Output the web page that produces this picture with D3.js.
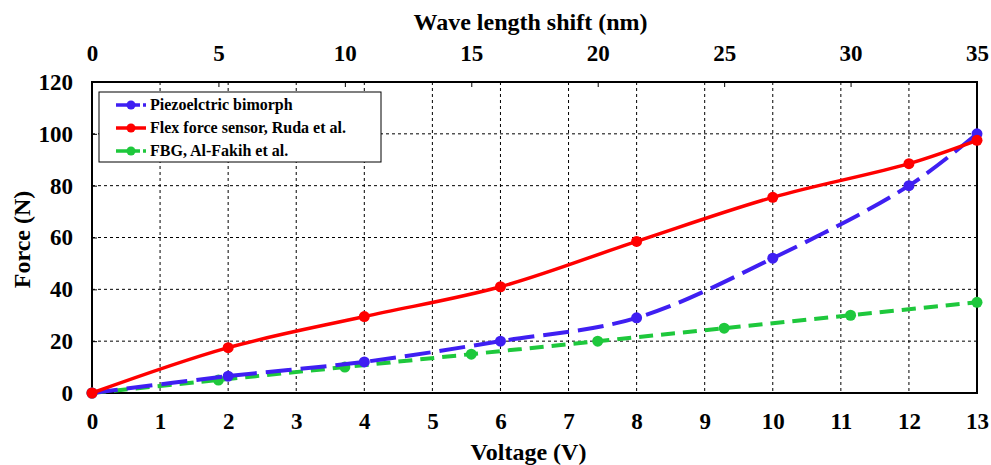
<!DOCTYPE html>
<html>
<head>
<meta charset="utf-8">
<script src="https://cdn.jsdelivr.net/npm/d3@7"></script>
<style>
  body { margin: 0; background: #fff; }
  text { font-family: "Liberation Serif", "Times New Roman", serif; font-weight: bold; fill: #000; }
</style>
</head>
<body>
<div id="chart"></div>
<script>
// data
const voltage = [0, 2, 4, 6, 8, 10, 12, 13];
const piezoForce = [0, 6.5, 12, 20, 29, 52, 80, 100];
const flexForce = [0, 17.5, 29.5, 41, 58.5, 75.5, 88.5, 97.5];
const fbgShift = [0, 5, 10, 15, 20, 25, 30, 35];
const fbgForce = [0, 5, 10, 15, 20, 25, 30, 35];

const voltTicks = d3.range(0, 14);
const shiftTicks = [0, 5, 10, 15, 20, 25, 30, 35];
const forceTicks = [0, 20, 40, 60, 80, 100, 120];

const legendItems = [
  {name: "Piezoelctric bimorph", color: "#3f1ff2", dash: "26,9"},
  {name: "Flex force sensor, Ruda et al.", color: "#ff0000", dash: null},
  {name: "FBG, Al-Fakih et al.", color: "#1ec83c", dash: "14,8"}
];

const W = 991, H = 465;
const margin = {top: 82, right: 14, bottom: 72, left: 92};
const width = W - margin.left - margin.right;
const height = H - margin.top - margin.bottom;

const svg = d3.select("#chart").append("svg")
  .attr("width", W).attr("height", H);
const g = svg.append("g")
  .attr("transform", "translate(" + margin.left + "," + margin.top + ")");

const x = d3.scaleLinear().domain([0, 13]).range([0, width]);
const x2 = d3.scaleLinear().domain([0, 35]).range([0, width]);
const y = d3.scaleLinear().domain([0, 120]).range([height, 0]);

// grid
g.append("g").selectAll("line")
  .data(voltTicks.slice(1, -1))
  .enter().append("line")
  .attr("x1", d => x(d)).attr("x2", d => x(d))
  .attr("y1", 0).attr("y2", height)
  .attr("stroke", "#000").attr("stroke-width", 1).attr("stroke-dasharray", "3,3");
g.append("g").selectAll("line")
  .data(forceTicks.slice(1, -1))
  .enter().append("line")
  .attr("x1", 0).attr("x2", width)
  .attr("y1", d => y(d)).attr("y2", d => y(d))
  .attr("stroke", "#000").attr("stroke-width", 1).attr("stroke-dasharray", "3,3");

// axes
const bottomAxis = g.append("g")
  .attr("transform", "translate(0," + height + ")")
  .call(d3.axisBottom(x).tickValues(voltTicks).tickSize(0).tickPadding(20));
const topAxis = g.append("g")
  .call(d3.axisTop(x2).tickValues(shiftTicks).tickSize(-5).tickPadding(21));
const leftAxis = g.append("g")
  .call(d3.axisLeft(y).tickValues(forceTicks).tickSize(-5).tickPadding(19));
[bottomAxis, topAxis, leftAxis].forEach(a => {
  a.select(".domain").remove();
  a.selectAll("text").style("font-size", "23px");
  a.selectAll(".tick line").attr("stroke", "#000");
});

// frame
g.append("rect")
  .attr("width", width).attr("height", height)
  .attr("fill", "none").attr("stroke", "#000").attr("stroke-width", 2);

// series
const curve = d3.curveCatmullRom.alpha(0.5);
function drawSeries(xs, ys, xScale, item, sw) {
  const pts = xs.map((v, i) => [xScale(v), y(ys[i])]);
  g.append("path")
    .attr("d", d3.line().curve(curve)(pts))
    .attr("fill", "none")
    .attr("stroke", item.color)
    .attr("stroke-width", sw)
    .attr("stroke-dasharray", item.dash);
  g.append("g").selectAll("circle")
    .data(pts).enter().append("circle")
    .attr("cx", d => d[0]).attr("cy", d => d[1])
    .attr("r", 5.5).attr("fill", item.color);
}
drawSeries(fbgShift, fbgForce, x2, legendItems[2], 4);
drawSeries(voltage, piezoForce, x, legendItems[0], 4);
drawSeries(voltage, flexForce, x, legendItems[1], 3.5);

// axis titles
svg.append("text")
  .attr("x", margin.left + width / 2 - 4).attr("y", 30)
  .attr("text-anchor", "middle").style("font-size", "24px")
  .text("Wave length shift (nm)");
svg.append("text")
  .attr("x", margin.left + width / 2 - 6).attr("y", 460)
  .attr("text-anchor", "middle").style("font-size", "24px")
  .text("Voltage (V)");
svg.append("text")
  .attr("transform", "translate(30," + (margin.top + height / 2 + 2) + ") rotate(-90)")
  .attr("text-anchor", "middle").style("font-size", "24px")
  .text("Force (N)");

// legend
const lg = svg.append("g").attr("transform", "translate(99,92)");
lg.append("rect")
  .attr("width", 282).attr("height", 70)
  .attr("fill", "#fff").attr("stroke", "#000").attr("stroke-width", 1);
legendItems.forEach((item, i) => {
  const ly = 13 + i * 23;
  lg.append("line")
    .attr("x1", 17).attr("x2", 47).attr("y1", ly).attr("y2", ly)
    .attr("stroke", item.color).attr("stroke-width", 3.5)
    .attr("stroke-dasharray", item.dash ? "24,3" : null);
  lg.append("circle").attr("cx", 32).attr("cy", ly).attr("r", 4.5).attr("fill", item.color);
  lg.append("text")
    .attr("x", 51).attr("y", ly + 5)
    .style("font-size", "16px")
    .text(item.name);
});
</script>
</body>
</html>
